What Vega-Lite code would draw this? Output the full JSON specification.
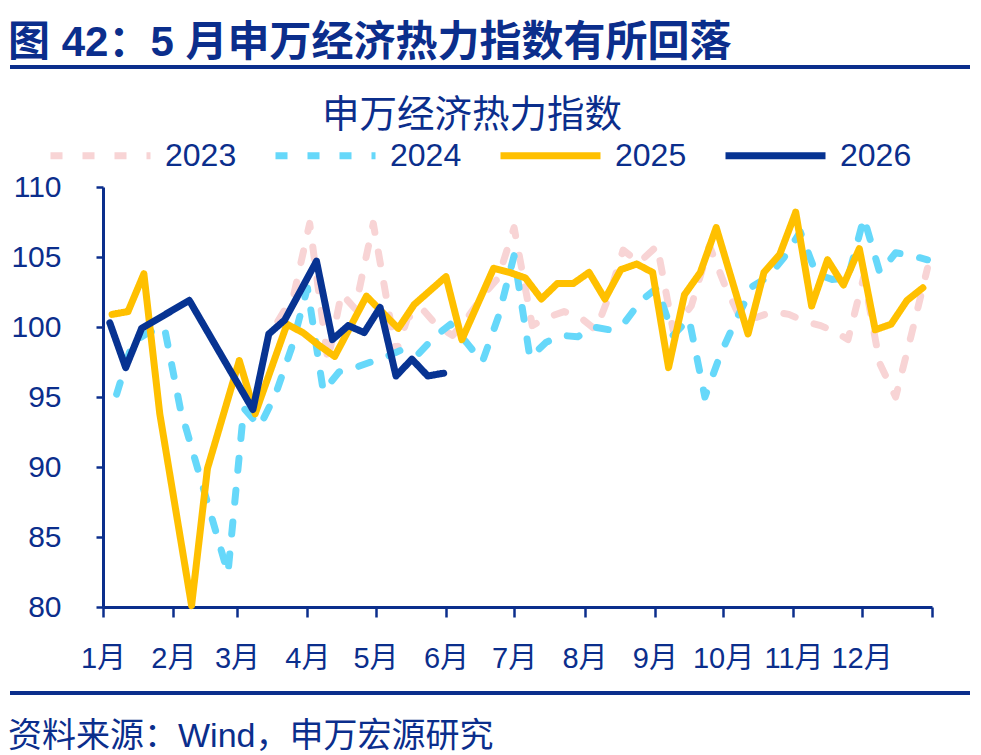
{
  "$schema": "https://vega.github.io/schema/vega-lite/v6.json",
  "background": "white",
  "padding": {"left": 8, "top": 22, "right": 8, "bottom": 0},
  "columns": 1,
  "spacing": 10,
  "config": {
    "view": {"stroke": null},
    "font": "Liberation Sans, Noto Sans CJK SC",
    "legend": {"padding": 0}
  },
  "resolve": {
    "scale": {"x": "independent", "y": "independent", "color": "independent", "strokeDash": "independent"},
    "legend": {"color": "independent", "strokeDash": "independent"}
  },
  "concat": [
    {
      "width": 867,
      "height": 38,
      "title": {"text": "图 42：5 月申万经济热力指数有所回落", "anchor": "start", "fontSize": 42, "fontWeight": "bold", "color": "#0B2E8C", "offset": -17, "font": "Liberation Sans, Noto Sans CJK SC"},
      "data": {"values": [{"hstart": 0, "hend": 1}]},
      "mark": {"type": "rule", "color": "#0B2E8C", "strokeWidth": 4},
      "encoding": {
        "x": {"field": "hstart", "type": "quantitative", "scale": {"domain": [0.096875, 1], "zero": false, "nice": false}, "axis": null},
        "x2": {"field": "hend"}
      }
    },
    {
      "width": 829,
      "height": 420,
      "title": {"text": "申万经济热力指数", "anchor": "middle", "frame": "bounds", "fontSize": 37.5, "fontWeight": "normal", "color": "#0B2E8C", "offset": -32},
      "data": {"values": [
        {"year": "2023", "day": 77, "index": 100.4}, {"year": "2023", "day": 84, "index": 102.3}, {"year": "2023", "day": 91, "index": 107.4}, {"year": "2023", "day": 99, "index": 97.6}, {"year": "2023", "day": 105, "index": 102.4}, {"year": "2023", "day": 111, "index": 101.3}, {"year": "2023", "day": 119, "index": 107.4}, {"year": "2023", "day": 129, "index": 98.2}, {"year": "2023", "day": 134, "index": 100.6}, {"year": "2023", "day": 140, "index": 101.4}, {"year": "2023", "day": 147, "index": 100.1}, {"year": "2023", "day": 154, "index": 99.4}, {"year": "2023", "day": 161, "index": 100.8}, {"year": "2023", "day": 168, "index": 102.4}, {"year": "2023", "day": 174, "index": 103.5}, {"year": "2023", "day": 181, "index": 107.1}, {"year": "2023", "day": 189, "index": 100.1}, {"year": "2023", "day": 196, "index": 100.7}, {"year": "2023", "day": 203, "index": 101.1}, {"year": "2023", "day": 210, "index": 100.7}, {"year": "2023", "day": 217, "index": 99.8}, {"year": "2023", "day": 223, "index": 102.3}, {"year": "2023", "day": 229, "index": 105.5}, {"year": "2023", "day": 236, "index": 104.6}, {"year": "2023", "day": 244, "index": 105.8}, {"year": "2023", "day": 251, "index": 99.8}, {"year": "2023", "day": 259, "index": 101.5}, {"year": "2023", "day": 267, "index": 105.8}, {"year": "2023", "day": 274, "index": 102.9}, {"year": "2023", "day": 281, "index": 100.5}, {"year": "2023", "day": 288, "index": 100.7}, {"year": "2023", "day": 295, "index": 101.1}, {"year": "2023", "day": 302, "index": 100.9}, {"year": "2023", "day": 309, "index": 100.4}, {"year": "2023", "day": 316, "index": 100.1}, {"year": "2023", "day": 323, "index": 99.6}, {"year": "2023", "day": 328, "index": 99.1}, {"year": "2023", "day": 335, "index": 103.6}, {"year": "2023", "day": 342, "index": 97.4}, {"year": "2023", "day": 349, "index": 95.0}, {"year": "2023", "day": 356, "index": 99.5}, {"year": "2023", "day": 363, "index": 104.2},
        {"year": "2024", "day": 6, "index": 95.2}, {"year": "2024", "day": 13, "index": 98.9}, {"year": "2024", "day": 20, "index": 99.6}, {"year": "2024", "day": 27, "index": 100.0}, {"year": "2024", "day": 34, "index": 94.2}, {"year": "2024", "day": 55, "index": 82.4}, {"year": "2024", "day": 62, "index": 94.2}, {"year": "2024", "day": 69, "index": 92.9}, {"year": "2024", "day": 76, "index": 95.2}, {"year": "2024", "day": 83, "index": 98.5}, {"year": "2024", "day": 90, "index": 102.8}, {"year": "2024", "day": 97, "index": 95.4}, {"year": "2024", "day": 104, "index": 96.8}, {"year": "2024", "day": 111, "index": 97.1}, {"year": "2024", "day": 118, "index": 97.5}, {"year": "2024", "day": 125, "index": 97.9}, {"year": "2024", "day": 132, "index": 98.4}, {"year": "2024", "day": 139, "index": 98.1}, {"year": "2024", "day": 146, "index": 99.3}, {"year": "2024", "day": 153, "index": 100.2}, {"year": "2024", "day": 160, "index": 98.9}, {"year": "2024", "day": 167, "index": 97.5}, {"year": "2024", "day": 174, "index": 100.7}, {"year": "2024", "day": 181, "index": 105.1}, {"year": "2024", "day": 188, "index": 97.8}, {"year": "2024", "day": 195, "index": 98.9}, {"year": "2024", "day": 202, "index": 99.4}, {"year": "2024", "day": 209, "index": 99.3}, {"year": "2024", "day": 216, "index": 100.0}, {"year": "2024", "day": 223, "index": 99.8}, {"year": "2024", "day": 230, "index": 100.4}, {"year": "2024", "day": 237, "index": 101.9}, {"year": "2024", "day": 244, "index": 102.8}, {"year": "2024", "day": 251, "index": 99.4}, {"year": "2024", "day": 258, "index": 100.6}, {"year": "2024", "day": 265, "index": 95.0}, {"year": "2024", "day": 272, "index": 98.1}, {"year": "2024", "day": 279, "index": 100.6}, {"year": "2024", "day": 286, "index": 102.9}, {"year": "2024", "day": 293, "index": 103.6}, {"year": "2024", "day": 300, "index": 105.0}, {"year": "2024", "day": 307, "index": 106.8}, {"year": "2024", "day": 314, "index": 103.8}, {"year": "2024", "day": 321, "index": 103.4}, {"year": "2024", "day": 328, "index": 103.5}, {"year": "2024", "day": 335, "index": 107.8}, {"year": "2024", "day": 342, "index": 103.9}, {"year": "2024", "day": 349, "index": 105.3}, {"year": "2024", "day": 356, "index": 105.1}, {"year": "2024", "day": 363, "index": 104.8},
        {"year": "2025", "day": 4, "index": 100.9}, {"year": "2025", "day": 11, "index": 101.1}, {"year": "2025", "day": 18, "index": 103.8}, {"year": "2025", "day": 25, "index": 93.8}, {"year": "2025", "day": 39, "index": 80.1}, {"year": "2025", "day": 46, "index": 89.9}, {"year": "2025", "day": 60, "index": 97.6}, {"year": "2025", "day": 67, "index": 93.8}, {"year": "2025", "day": 81, "index": 100.2}, {"year": "2025", "day": 88, "index": 99.6}, {"year": "2025", "day": 95, "index": 98.7}, {"year": "2025", "day": 102, "index": 97.9}, {"year": "2025", "day": 116, "index": 102.2}, {"year": "2025", "day": 130, "index": 99.9}, {"year": "2025", "day": 137, "index": 101.6}, {"year": "2025", "day": 144, "index": 102.6}, {"year": "2025", "day": 151, "index": 103.6}, {"year": "2025", "day": 158, "index": 99.1}, {"year": "2025", "day": 172, "index": 104.2}, {"year": "2025", "day": 179, "index": 103.9}, {"year": "2025", "day": 186, "index": 103.5}, {"year": "2025", "day": 193, "index": 102.0}, {"year": "2025", "day": 200, "index": 103.1}, {"year": "2025", "day": 207, "index": 103.1}, {"year": "2025", "day": 214, "index": 103.9}, {"year": "2025", "day": 221, "index": 102.0}, {"year": "2025", "day": 228, "index": 104.1}, {"year": "2025", "day": 235, "index": 104.5}, {"year": "2025", "day": 242, "index": 103.9}, {"year": "2025", "day": 249, "index": 97.1}, {"year": "2025", "day": 256, "index": 102.3}, {"year": "2025", "day": 263, "index": 103.9}, {"year": "2025", "day": 270, "index": 107.1}, {"year": "2025", "day": 284, "index": 99.5}, {"year": "2025", "day": 291, "index": 103.9}, {"year": "2025", "day": 298, "index": 105.2}, {"year": "2025", "day": 305, "index": 108.2}, {"year": "2025", "day": 312, "index": 101.5}, {"year": "2025", "day": 319, "index": 104.8}, {"year": "2025", "day": 326, "index": 103.0}, {"year": "2025", "day": 333, "index": 105.6}, {"year": "2025", "day": 340, "index": 99.8}, {"year": "2025", "day": 347, "index": 100.2}, {"year": "2025", "day": 354, "index": 101.9}, {"year": "2025", "day": 361, "index": 102.8},
        {"year": "2026", "day": 3, "index": 100.3}, {"year": "2026", "day": 10, "index": 97.1}, {"year": "2026", "day": 17, "index": 99.9}, {"year": "2026", "day": 38, "index": 101.9}, {"year": "2026", "day": 66, "index": 94.1}, {"year": "2026", "day": 73, "index": 99.5}, {"year": "2026", "day": 80, "index": 100.5}, {"year": "2026", "day": 94, "index": 104.7}, {"year": "2026", "day": 101, "index": 99.1}, {"year": "2026", "day": 108, "index": 100.1}, {"year": "2026", "day": 115, "index": 99.6}, {"year": "2026", "day": 122, "index": 101.4}, {"year": "2026", "day": 129, "index": 96.5}, {"year": "2026", "day": 136, "index": 97.7}, {"year": "2026", "day": 143, "index": 96.5}, {"year": "2026", "day": 150, "index": 96.7}
      ]},
      "mark": {"type": "line", "strokeWidth": 7, "strokeCap": "round", "strokeJoin": "round"},
      "encoding": {
        "x": {
          "field": "day", "type": "quantitative",
          "scale": {"domain": [0, 365], "nice": false, "zero": false},
          "axis": {
            "title": null, "grid": false,
            "values": [0, 31, 59, 90, 120, 151, 181, 212, 243, 273, 304, 334, 365],
            "labelExpr": "datum.value >= 365 ? '' : (indexof([0,31,59,90,120,151,181,212,243,273,304,334], datum.value) + 1) + '月'",
            "labelFlush": false, "labelOverlap": false, "labelBound": false,
            "domainColor": "#0B2E8C", "domainWidth": 3,
            "tickColor": "#0B2E8C", "tickWidth": 2.5, "tickSize": 10,
            "labelColor": "#0B2E8C", "labelFontSize": 29, "labelPadding": 27,
            "labelFont": "Liberation Sans, Noto Sans CJK SC"
          }
        },
        "y": {
          "field": "index", "type": "quantitative",
          "scale": {"domain": [80, 110], "nice": false, "zero": false},
          "axis": {
            "title": null, "grid": false,
            "values": [80, 85, 90, 95, 100, 105, 110],
            "domainColor": "#0B2E8C", "domainWidth": 3,
            "tickColor": "#0B2E8C", "tickWidth": 2.5, "tickSize": 7,
            "labelColor": "#0B2E8C", "labelFontSize": 30, "labelPadding": 35,
            "labelFont": "Liberation Sans"
          }
        },
        "color": {
          "field": "year", "type": "nominal",
          "scale": {"domain": ["2023", "2024", "2025", "2026"], "range": ["#F8D4D5", "#66D8FA", "#FFC000", "#073392"]},
          "legend": {"title": null, "orient": "none", "legendX": -56, "legendY": -85, "direction": "horizontal", "columns": 4, "symbolType": "stroke", "symbolSize": 10000, "symbolStrokeWidth": 7, "labelFontSize": 32, "labelColor": "#0B2E8C", "labelOffset": 11, "columnPadding": 24, "labelFont": "Liberation Sans"}
        },
        "strokeDash": {
          "field": "year", "type": "nominal",
          "scale": {"domain": ["2023", "2024", "2025", "2026"], "range": [[12, 20], [12, 20], [1, 0], [1, 0]]},
          "legend": {"title": null, "orient": "none", "legendX": -56, "legendY": -85, "direction": "horizontal", "columns": 4, "symbolType": "stroke", "symbolSize": 10000, "symbolStrokeWidth": 7, "labelFontSize": 32, "labelColor": "#0B2E8C", "labelOffset": 11, "columnPadding": 24, "labelFont": "Liberation Sans"}
        }
      }
    },
    {
      "width": 867,
      "height": 0,
      "title": {"text": "资料来源：Wind，申万宏源研究", "orient": "bottom", "anchor": "start", "fontSize": 34, "fontWeight": "normal", "color": "#0B2E8C", "offset": 17, "font": "Liberation Sans, Noto Sans CJK SC"},
      "data": {"values": [{"fstart": 0, "fend": 1}]},
      "mark": {"type": "rule", "color": "#0B2E8C", "strokeWidth": 4},
      "encoding": {
        "x": {"field": "fstart", "type": "quantitative", "scale": {"domain": [0.096875, 1], "zero": false, "nice": false}, "axis": null},
        "x2": {"field": "fend"}
      }
    }
  ]
}
